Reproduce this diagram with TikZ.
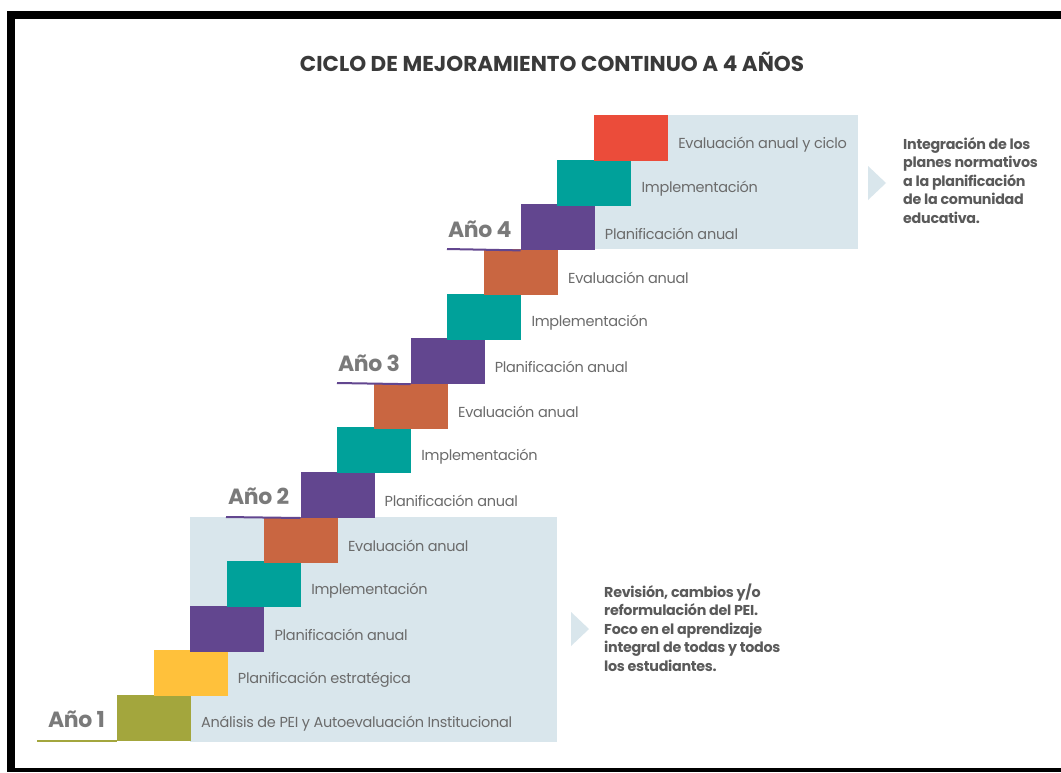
\documentclass[tikz,border=0pt]{standalone}
\usepackage{fontspec}
\setmainfont{Poppins}[LetterSpace=-2]
\newfontfamily\titlefont{Poppins}[LetterSpace=0]
\definecolor{cOlive}{HTML}{A3A63D}
\definecolor{cYellow}{HTML}{FFC13B}
\definecolor{cPurple}{HTML}{62468F}
\definecolor{cTeal}{HTML}{00A19A}
\definecolor{cOrange}{HTML}{C96641}
\definecolor{cRed}{HTML}{EB4C3A}
\definecolor{cLight}{HTML}{D9E6EC}
\definecolor{labelgray}{HTML}{6B6B6B}
\definecolor{yeargray}{HTML}{7A7A7A}
\definecolor{notegray}{HTML}{5A5A5A}
\definecolor{titlegray}{HTML}{3A3A3A}
\begin{document}
\begin{tikzpicture}[x=1pt,y=-1pt,
  stepbox/.style={draw=none, anchor=north west, minimum width=74pt, minimum height=46pt, inner sep=0pt, outer sep=0pt},
  lbl/.style={anchor=west, inner sep=0pt, text=labelgray, font=\fontsize{14.5}{17}\selectfont},
  yearlbl/.style={anchor=base west, inner sep=0pt, text=yeargray, font=\bfseries\fontsize{22}{26}\selectfont},
  note/.style={anchor=base west, inner sep=0pt, text=notegray, align=left, font=\bfseries\fontsize{14.3}{18.5}\selectfont},
  panel/.style={fill=cLight},
  yearline/.style={line width=2pt}
  ]
\useasboundingbox (0,0) rectangle (1061,772);
\fill[white] (0,0) rectangle (1061,772);
% frame
\fill[black] (7,11) rectangle (1061,19);
\fill[black] (7,11) rectangle (15,772);
\fill[black] (7,768) rectangle (1061,772);
% title
\node[text=titlegray, font=\titlefont\bfseries\fontsize{21.5}{24}\selectfont, inner sep=0pt] (title) at (552,62) {CICLO DE MEJORAMIENTO CONTINUO A 4 AÑOS};
% light panels
\fill[panel] (190,517) rectangle (557,742);
\fill[panel] (595,115) rectangle (858,249);
\fill[panel] (571,612) -- (589,629) -- (571,646) -- cycle;
\fill[panel] (868,166) -- (886,183) -- (868,200) -- cycle;
% steps
\foreach \i/\c/\t in {
  0/cOlive/Análisis de PEI y Autoevaluación Institucional,
  1/cYellow/Planificación estratégica,
  2/cPurple/Planificación anual,
  3/cTeal/Implementación,
  4/cOrange/Evaluación anual,
  5/cPurple/Planificación anual,
  6/cTeal/Implementación,
  7/cOrange/Evaluación anual,
  8/cPurple/Planificación anual,
  9/cTeal/Implementación,
  10/cOrange/Evaluación anual,
  11/cPurple/Planificación anual,
  12/cTeal/Implementación,
  13/cRed/Evaluación anual y ciclo} {
  \node[stepbox, fill=\c] (s\i) at ({117+36.7*\i},{695-44.6*\i}) {};
  \node[lbl] (l\i) at ([xshift=10pt,yshift=-6pt]s\i.east) {\t};
}
% years
\node[yearlbl] (y1) at (48,727) {Año 1};
\node[yearlbl] (y2) at (228,504) {Año 2};
\node[yearlbl] (y3) at (338,371) {Año 3};
\node[yearlbl] (y4) at (448,237) {Año 4};
\coordinate (u1) at (37,741);
\coordinate (u2) at (226,517);
\coordinate (u3) at (337,383);
\coordinate (u4) at (447,249);
\draw[yearline, cOlive] (u1) -- (s0.south west);
\draw[yearline, cPurple] (u2) -- (s5.south west);
\draw[yearline, cPurple] (u3) -- (s8.south west);
\draw[yearline, cPurple] (u4) -- (s11.south west);
% notes (anchored at the baseline of the last line)
\node[note] (n1) at (604,671) {Revisión, cambios y/o\\reformulación del PEI.\\Foco en el aprendizaje\\integral de todas y todos\\los estudiantes.};
\node[note] (n2) at (903,223) {Integración de los\\planes normativos\\a la planificación\\de la comunidad\\educativa.};
\end{tikzpicture}
\end{document}
